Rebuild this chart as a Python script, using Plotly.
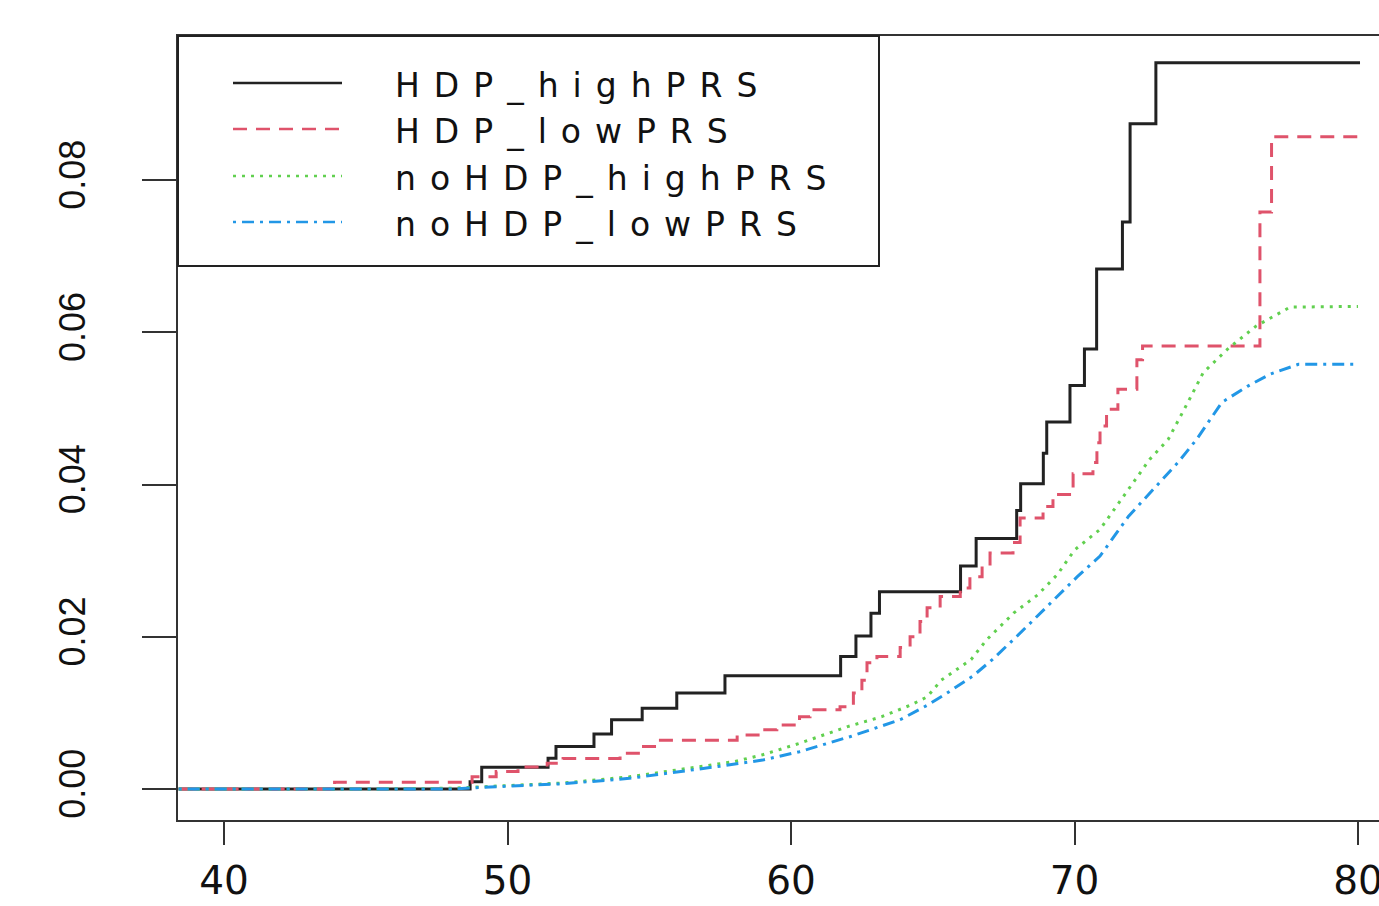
import plotly.graph_objects as go

# ---------------- data ----------------
series_names = ["HDP_highPRS", "HDP_lowPRS", "noHDP_highPRS", "noHDP_lowPRS"]

hdp_high_x = [38.4, 48.68, 49.09, 51.43, 51.71, 53.05, 53.67, 54.75, 55.97, 57.67,
              61.75, 62.29, 62.82, 63.12, 65.98, 66.53, 67.96, 68.1, 68.9, 69.02,
              69.84, 70.35, 70.78, 71.69, 71.96, 72.87, 80.07]
hdp_high_y = [0.0, 0.00096, 0.00285, 0.00404, 0.00557, 0.00724, 0.0091, 0.0106, 0.0126, 0.01487,
              0.0174, 0.0201, 0.0231, 0.0259, 0.0293, 0.0329, 0.0366, 0.0401, 0.0441, 0.0482,
              0.0530, 0.0578, 0.0683, 0.0745, 0.0874, 0.0954, 0.0954]

hdp_low_x = [38.4, 43.9, 48.75, 49.6, 50.37, 51.4, 51.96, 53.97, 54.67, 55.27,
             58.1, 58.9, 59.5, 60.3, 60.67, 61.73, 62.2, 62.5, 62.68, 63.03,
             63.85, 64.2, 64.55, 64.8, 65.26, 65.97, 66.31, 66.74, 67.02, 67.83,
             68.08, 68.89, 69.24, 69.95, 70.65, 70.79, 70.9, 71.13, 71.53, 72.2,
             72.4, 76.54, 76.95, 80.07]
hdp_low_y = [0.0, 0.0009, 0.0016, 0.0023, 0.0029, 0.0034, 0.0040, 0.0047, 0.0056, 0.0064,
             0.0071, 0.0078, 0.0084, 0.0095, 0.0104, 0.0108, 0.0126, 0.0143, 0.0166, 0.0174,
             0.0186, 0.0200, 0.0220, 0.0238, 0.0253, 0.0264, 0.0279, 0.0293, 0.0310, 0.0324,
             0.0356, 0.0371, 0.0387, 0.0414, 0.0429, 0.0455, 0.0477, 0.0499, 0.0525, 0.0564,
             0.0582, 0.0758, 0.0857, 0.0857]

nohdp_high_x = [38.4, 45.0, 48.0, 50.0, 52.0, 54.3, 56.0, 58.0, 59.0, 60.3,
                62.0, 63.2, 64.2, 64.8, 65.3, 66.35, 66.9, 67.85, 68.7, 69.4,
                70.0, 70.9, 72.65, 73.3, 74.0, 74.54, 75.4, 76.4, 77.6, 80.0]
nohdp_high_y = [0.0, 0.0, 0.0001, 0.0004, 0.0008, 0.0016, 0.0025, 0.0036, 0.0045, 0.0060,
                0.0082, 0.0095, 0.0110, 0.0121, 0.0143, 0.0170, 0.0196, 0.0231, 0.0255, 0.0282,
                0.0314, 0.0341, 0.0433, 0.0459, 0.0508, 0.0547, 0.0578, 0.0608, 0.0633, 0.0634]

nohdp_low_x = [38.4, 48.0, 49.6, 52.0, 54.3, 56.0, 57.5, 59.0, 60.3, 62.1,
               63.85, 64.8, 65.5, 66.4, 67.1, 67.95, 68.8, 69.5, 70.1, 70.9,
               71.9, 73.65, 74.3, 75.2, 76.1, 76.9, 77.9, 80.0]
nohdp_low_y = [0.0, 0.0, 0.0003, 0.0007, 0.0014, 0.0022, 0.0030, 0.0038, 0.0049, 0.0069,
               0.0091, 0.0110, 0.0126, 0.0148, 0.0170, 0.0200, 0.0231, 0.0257, 0.0279, 0.0306,
               0.0358, 0.0429, 0.0459, 0.0508, 0.0529, 0.0545, 0.0558, 0.0558]

x_ticks = [40, 50, 60, 70, 80]
y_ticks = [0.00, 0.02, 0.04, 0.06, 0.08]
y_tick_labels = ["0.00", "0.02", "0.04", "0.06", "0.08"]

# ---------------- styling ----------------
colors = ["#222222", "#DF536B", "#61D04F", "#2297E6"]
dashes = ["solid", "14px,9px", "3px,6px", "3px,6px,12px,6px"]
shapes_line = ["hv", "hv", "linear", "linear"]

W, H = 1379, 906
L, T, B, R = 178, 36, 86, 0
PW, PH = W - L - R, H - T - B


def px_x(p):
    return (p - L) / PW


def px_y(p):
    return (H - B - p) / PH


fig = go.Figure()
data = [(hdp_high_x, hdp_high_y), (hdp_low_x, hdp_low_y),
        (nohdp_high_x, nohdp_high_y), (nohdp_low_x, nohdp_low_y)]
for i, (xs, ys) in enumerate(data):
    fig.add_trace(go.Scatter(
        x=xs, y=ys, mode="lines", name=series_names[i], showlegend=False,
        line=dict(color=colors[i], width=3, dash=dashes[i], shape=shapes_line[i]),
        cliponaxis=True,
    ))

font_family = "Liberation Sans, Arial, sans-serif"
wide_family = "DejaVu Sans, Verdana, sans-serif"

shapes = [
    # legend box
    dict(type="rect", xref="paper", yref="paper",
         x0=px_x(178), x1=px_x(879), y0=px_y(266), y1=px_y(36),
         line=dict(color="#222222", width=2), fillcolor="rgba(0,0,0,0)"),
]
annotations = []
row_y = [83, 129, 176, 222]
for i, name in enumerate(series_names):
    shapes.append(dict(type="line", xref="paper", yref="paper",
                       x0=px_x(233), x1=px_x(342), y0=px_y(row_y[i]), y1=px_y(row_y[i]),
                       line=dict(color=colors[i], width=2.5, dash=dashes[i])))
    annotations.append(dict(
        xref="paper", yref="paper", x=px_x(393), y=px_y(row_y[i] + 2),
        xanchor="left", yanchor="middle", showarrow=False,
        text=f'<span style="letter-spacing:14px">{name}</span>',
        font=dict(family=wide_family, size=33, color="#111111"),
    ))

fig.update_layout(
    width=W, height=H,
    margin=dict(l=L, r=R, t=T, b=B, autoexpand=False),
    paper_bgcolor="white", plot_bgcolor="white",
    shapes=shapes, annotations=annotations,
    xaxis=dict(
        range=[38.377, 80.74], tickmode="array", tickvals=x_ticks,
        ticks="outside", ticklen=23, tickwidth=2, tickcolor="#333333",
        showline=True, linecolor="#333333", linewidth=2, mirror=True,
        showgrid=False, zeroline=False,
        tickfont=dict(family=wide_family, size=39, color="#111111"),
        ticklabelstandoff=2, ticklabeloverflow="allow",
    ),
    yaxis=dict(
        range=[-0.00407, 0.09892], tickmode="array", tickvals=y_ticks,
        ticktext=y_tick_labels, tickangle=-90,
        ticks="outside", ticklen=34, tickwidth=2, tickcolor="#333333",
        showline=True, linecolor="#333333", linewidth=2, mirror=False,
        showgrid=False, zeroline=False,
        tickfont=dict(family=font_family, size=36, color="#111111"),
        ticklabelstandoff=43,
    ),
)

fig.write_html(
    "out.html",
    config={"displayModeBar": False},
    post_script="document.body.style.margin='0';document.body.style.overflow='hidden';",
)
